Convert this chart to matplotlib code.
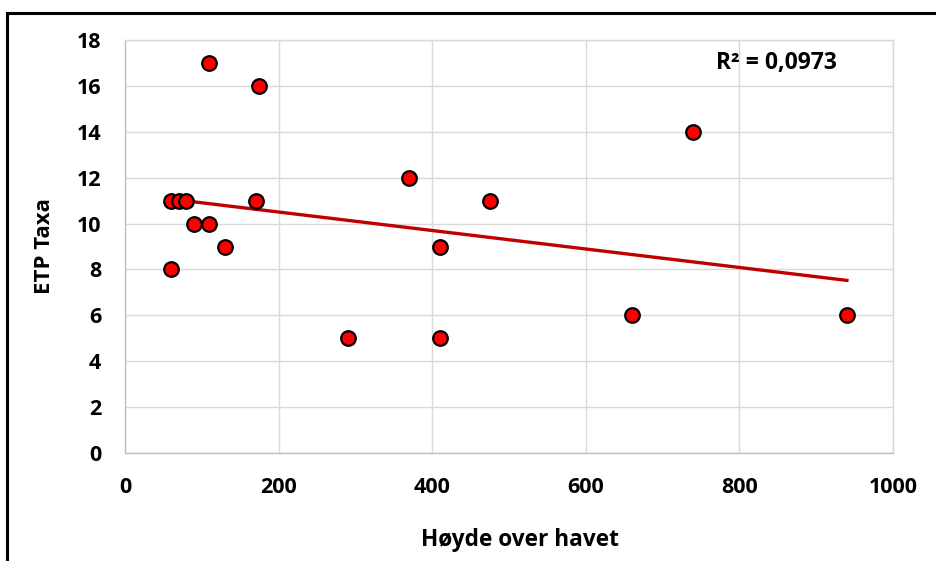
import numpy as np
import matplotlib
matplotlib.use("Agg")
import matplotlib.pyplot as plt
from matplotlib.patches import Rectangle

# Data
hoyde = [60, 70, 80, 170, 90, 110, 130, 60, 110, 175, 290, 370, 410, 410, 475, 660, 740, 940]
etp_taxa = [11, 11, 11, 11, 10, 10, 9, 8, 17, 16, 5, 12, 9, 5, 11, 6, 14, 6]
x_ticks = [0, 200, 400, 600, 800, 1000]
y_ticks = [0, 2, 4, 6, 8, 10, 12, 14, 16, 18]
r2_label = "R² = 0,0973"
x_label = "Høyde over havet"
y_label = "ETP Taxa"

plt.rcParams['font.family'] = ['Open Sans', 'DejaVu Sans']
plt.rcParams['font.weight'] = 'bold'

fig = plt.figure(figsize=(9.36, 5.61), dpi=100)
ax = fig.add_axes([125/936, (561-453)/561, (893-125)/936, (453-40)/561])

ax.set_xlim(0, 1000)
ax.set_ylim(0, 18)
ax.set_xticks(x_ticks)
ax.set_yticks(y_ticks)
ax.grid(True, color='#d9d9d9', linewidth=1.0)
ax.set_axisbelow(True)
for s in ax.spines.values():
    s.set_color('#d9d9d9')
    s.set_linewidth(1.0)
ax.spines['left'].set_color('#bfbfbf')
ax.spines['bottom'].set_color('#bfbfbf')
ax.tick_params(length=0, labelsize=15.5, pad=17)
for lab in ax.get_xticklabels() + ax.get_yticklabels():
    lab.set_fontweight('bold')

# Linear trend
xa = np.array(hoyde, dtype=float)
ya = np.array(etp_taxa, dtype=float)
k, b = np.polyfit(xa, ya, 1)
xt = np.array([xa.min(), xa.max()])
ax.plot(xt, k*xt + b, color='#c00000', linewidth=2.4, zorder=2)

ax.scatter(hoyde, etp_taxa, s=110, color='#ff0000', edgecolor='black', linewidth=1.6, zorder=3)

ax.text(848, 17.0, r2_label, ha='center', va='center', fontsize=16.5, fontweight='bold')

ax.set_xlabel(x_label, fontsize=16.3, fontweight='bold')
ax.xaxis.set_label_coords((520-125)/768, (453-528)/413)
ax.set_ylabel(y_label, fontsize=16, fontweight='bold', labelpad=16)

# outer chart frame (partially off canvas)
fig.patches.append(Rectangle((7/936, -0.1), 1.2, (561-13)/561 + 0.1, transform=fig.transFigure,
                             fill=False, edgecolor='black', linewidth=2.2, clip_on=False))

fig.savefig("out.png", dpi=100)
